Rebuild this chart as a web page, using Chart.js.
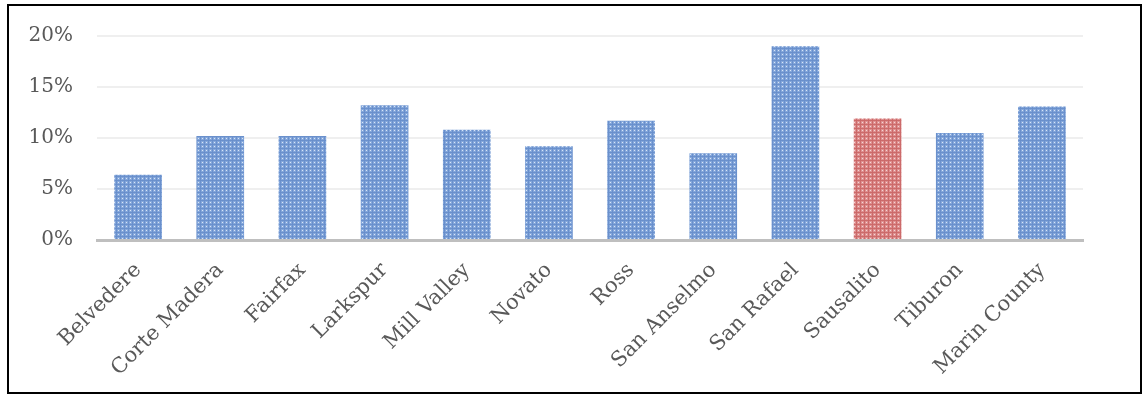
<!DOCTYPE html>
<html>
<head>
<meta charset="utf-8">
<script src="https://cdn.jsdelivr.net/npm/chart.js@4/dist/chart.umd.min.js"></script>
<style>
  html, body { margin: 0; padding: 0; background: #fff; }
  #wrap { position: relative; width: 1145px; height: 396px; }
</style>
</head>
<body>
<div id="wrap"><canvas id="rateChart" width="1145" height="396"></canvas></div>
<script>
// Kota / wilayah dan nilainya (persen)
const places = ['Belvedere', 'Corte Madera', 'Fairfax', 'Larkspur', 'Mill Valley', 'Novato',
  'Ross', 'San Anselmo', 'San Rafael', 'Sausalito', 'Tiburon', 'Marin County'];
const rates = [6.4, 10.2, 10.2, 13.2, 10.8, 9.2, 11.7, 8.5, 19.0, 11.9, 10.5, 13.1];
const highlight = 'Sausalito';
const yTicks = [0, 5, 10, 15, 20];

// Tekstur batang: petak kecil dengan garis dan titik terang
function makePattern(base, line, dot) {
    const c = document.createElement('canvas');
    c.width = 4; c.height = 4;
    const g = c.getContext('2d');
    g.fillStyle = base; g.fillRect(0, 0, 4, 4);
    g.fillStyle = line; g.fillRect(0, 0, 4, 1); g.fillRect(0, 0, 1, 4);
    g.fillStyle = dot; g.fillRect(2, 2, 1, 1);
    return g.createPattern(c, 'repeat');
}
const bluePat = makePattern('#84a7db', '#6a90cc', '#d9e5f6');
const redPat = makePattern('#de9090', '#cc6a6a', '#f5d5d5');

const serif = "'DejaVu Serif', 'Liberation Serif', serif";

// Bingkai hitam di sekeliling grafik
const framePlugin = {
    id: 'frame',
    afterDraw(chart) {
        const c = chart.ctx;
        c.save();
        c.strokeStyle = '#000';
        c.lineWidth = 2;
        c.strokeRect(8, 5, 1133, 388);
        c.restore();
    }
};

const ctx = document.getElementById('rateChart').getContext('2d');
new Chart(ctx, {
    type: 'bar',
    data: {
        labels: places,
        datasets: [{
            data: rates,
            backgroundColor: places.map(p => p === highlight ? redPat : bluePat),
            borderWidth: 0,
            barPercentage: 0.58,
            categoryPercentage: 1
        }]
    },
    options: {
        responsive: false,
        animation: false,
        layout: { padding: { left: 0, top: 34, right: 62, bottom: 0 } },
        plugins: { legend: { display: false }, tooltip: { enabled: false } },
        scales: {
            y: {
                min: 0,
                max: 20,
                afterBuildTicks: s => { s.ticks = yTicks.map(v => ({ value: v })); },
                afterFit: s => { s.width = 97; },
                grid: { color: '#efefef', lineWidth: 2, drawTicks: false },
                border: { display: false },
                ticks: {
                    padding: 24,
                    color: '#595959',
                    font: { family: serif, size: 20 },
                    callback: v => v + '%'
                }
            },
            x: {
                afterFit: s => { s.height = 156; },
                grid: { display: false, drawTicks: false },
                border: { display: true, color: '#bfbfbf', width: 3 },
                ticks: {
                    minRotation: 45,
                    maxRotation: 45,
                    padding: 18,
                    color: '#595959',
                    font: { family: serif, size: 21 }
                }
            }
        }
    },
    plugins: [framePlugin]
});
</script>
</body>
</html>
